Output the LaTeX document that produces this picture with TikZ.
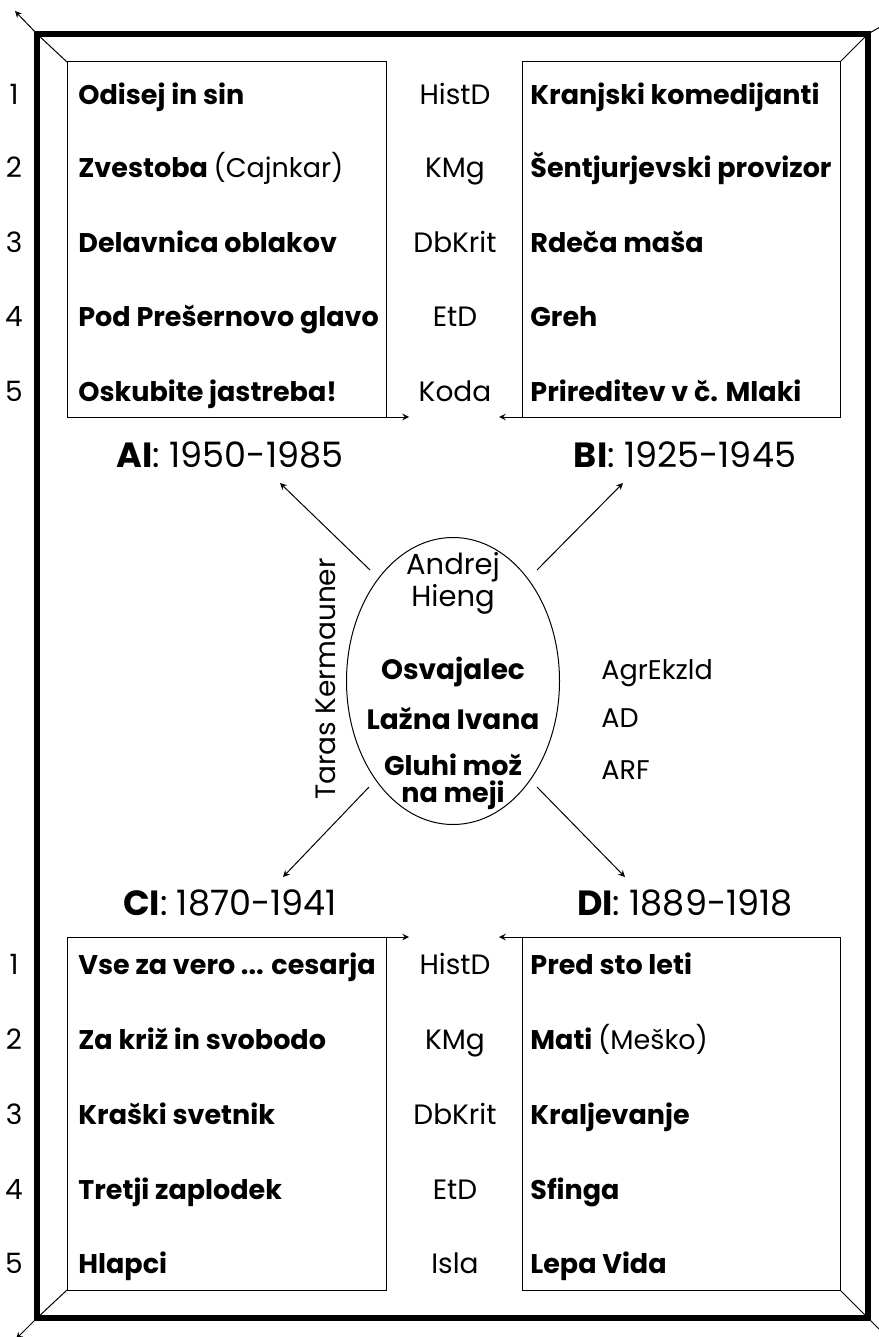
\documentclass[tikz,border=0pt]{standalone}
\usepackage{fontspec}
\setmainfont{Poppins}
\usetikzlibrary{shapes.geometric}
\tikzset{
  frame/.style={line width=2.6pt},
  thin/.style={line width=0.5pt},
  txt/.style={inner sep=0pt, text height=9.6pt, text depth=0pt},
  play/.style={txt, anchor=west, font=\bfseries\fontsize{13.5}{15}\selectfont},
  code/.style={txt, font=\fontsize{14}{16}\selectfont},
  num/.style={txt, font=\fontsize{14}{16}\selectfont},
  period/.style={inner sep=0pt, text height=12pt, text depth=0pt, font=\fontsize{17.5}{19}\selectfont},
}
\begin{document}
\begin{tikzpicture}[>=stealth, x=0.5pt, y=-0.5pt]
\useasboundingbox (0,0) rectangle (878,1337);

% outer frame and its corners
\coordinate (o1) at (37,34);
\coordinate (o2) at (868,34);
\coordinate (o3) at (868,1318);
\coordinate (o4) at (37,1318);
\coordinate (i1) at (67,62);
\coordinate (i2) at (840,62);
\coordinate (i3) at (840,1290);
\coordinate (i4) at (67,1290);
\coordinate (e1) at (15,11);
\coordinate (e2) at (892,20);
\coordinate (e3) at (892,1342);
\coordinate (e4) at (16,1339);
\draw[frame] (o1) rectangle (o3);
\draw[thin] (o1) -- (i1);
\draw[thin] (o2) -- (i2);
\draw[thin] (o3) -- (i3);
\draw[thin] (o4) -- (i4);
\draw[thin,->] (o1) -- (e1);
\draw[thin] (o2) -- (e2);
\draw[thin] (o3) -- (e3);
\draw[thin,->] (o4) -- (e4);

% the four boxes
\coordinate (aBR) at (386,417);
\coordinate (bTL) at (522,62);
\coordinate (bBL) at (522,417);
\coordinate (cTL) at (67,937);
\coordinate (cTR) at (386,937);
\coordinate (dTL) at (522,937);
\coordinate (aTip) at (409,417);
\coordinate (bTip) at (499,417);
\coordinate (cTip) at (409,937);
\coordinate (dTip) at (499,937);
\draw[thin] (i1) rectangle (aBR);
\draw[thin] (bTL) rectangle (840,417);
\draw[thin] (cTL) rectangle (386,1290);
\draw[thin] (dTL) rectangle (i3);
\draw[thin,->] (aBR) -- (aTip);
\draw[thin,->] (bBL) -- (bTip);
\draw[thin,->] (cTR) -- (cTip);
\draw[thin,->] (dTL) -- (dTip);

% row numbers
\node[num] (n1) at (14,95) {1};
\node[num] (n2) at (14,168) {2};
\node[num] (n3) at (14,243) {3};
\node[num] (n4) at (14,317) {4};
\node[num] (n5) at (14,392) {5};
\node[num] (m1) at (14,965) {1};
\node[num] (m2) at (14,1040) {2};
\node[num] (m3) at (14,1115) {3};
\node[num] (m4) at (14,1190) {4};
\node[num] (m5) at (14,1264) {5};

% box A
\node[play] (a1) at (78,95) {Odisej in sin};
\node[play] (a2) at (78,168) {Zvestoba \mdseries(Cajnkar)};
\node[play] (a3) at (78,243) {Delavnica oblakov};
\node[play] (a4) at (78,317) {Pod Prešernovo glavo};
\node[play] (a5) at (78,392) {Oskubite jastreba!};

% middle codes, top
\node[code] (k1) at (455,95) {HistD};
\node[code] (k2) at (455,168) {KMg};
\node[code] (k3) at (455,243) {DbKrit};
\node[code] (k4) at (455,317) {EtD};
\node[code] (k5) at (455,392) {Koda};

% box B
\node[play] (b1) at (530,95) {Kranjski komedijanti};
\node[play] (b2) at (530,168) {Šentjurjevski provizor};
\node[play] (b3) at (530,243) {Rdeča maša};
\node[play] (b4) at (530,317) {Greh};
\node[play] (b5) at (530,392) {Prireditev v č. Mlaki};

% box C
\node[play] (c1) at (78,965) {Vse za vero ... cesarja};
\node[play] (c2) at (78,1040) {Za križ in svobodo};
\node[play] (c3) at (78,1115) {Kraški svetnik};
\node[play] (c4) at (78,1190) {Tretji zaplodek};
\node[play] (c5) at (78,1264) {Hlapci};

% middle codes, bottom
\node[code] (l1) at (455,965) {HistD};
\node[code] (l2) at (455,1040) {KMg};
\node[code] (l3) at (455,1115) {DbKrit};
\node[code] (l4) at (455,1190) {EtD};
\node[code] (l5) at (455,1264) {Isla};

% box D
\node[play] (d1) at (530,965) {Pred sto leti};
\node[play] (d2) at (530,1040) {Mati \mdseries(Meško)};
\node[play] (d3) at (530,1115) {Kraljevanje};
\node[play] (d4) at (530,1190) {Sfinga};
\node[play] (d5) at (530,1264) {Lepa Vida};

% periods
\node[period] (pA) at (230,455) {\textbf{AI}: 1950-1985};
\node[period] (pB) at (685,455) {\textbf{BI}: 1925-1945};
\node[period] (pC) at (230,903) {\textbf{CI}: 1870-1941};
\node[period] (pD) at (685,903) {\textbf{DI}: 1889-1918};

% centre
\node[draw, thin, ellipse, inner sep=0pt, minimum width=106.5pt, minimum height=143.5pt] (ell) at (453,681) {};
\node[code, font=\fontsize{14.5}{16}\selectfont] (au1) at (453,565) {Andrej};
\node[code, font=\fontsize{14.5}{16}\selectfont] (au2) at (453,597) {Hieng};
\node[txt, font=\bfseries\fontsize{14}{16}\selectfont] (h1) at (453,670) {Osvajalec};
\node[txt, font=\bfseries\fontsize{14}{16}\selectfont] (h2) at (453,720) {Lažna Ivana};
\node[txt, font=\bfseries\fontsize{13.5}{16}\selectfont] (h3) at (453,766) {Gluhi mož};
\node[txt, font=\bfseries\fontsize{13.5}{16}\selectfont] (h4) at (453,793) {na meji};
\node[code, anchor=west, font=\fontsize{13.5}{16}\selectfont] (g1) at (601,670) {AgrEkzld};
\node[code, anchor=west, font=\fontsize{13.5}{16}\selectfont] (g2) at (601,718) {AD};
\node[code, anchor=west, font=\fontsize{13.5}{16}\selectfont] (g3) at (601,770) {ARF};
\node[rotate=90, inner sep=0pt, text height=10pt, text depth=0pt, font=\fontsize{14}{16}\selectfont] (crit) at (325,679) {Taras Kermauner};

% arrows out of the centre
\coordinate (nw) at (370,570);
\coordinate (ne) at (537,570);
\coordinate (sw) at (369,787);
\coordinate (se) at (537,787);
\coordinate (nwTip) at (280,483);
\coordinate (neTip) at (623,483);
\coordinate (swTip) at (283,877);
\coordinate (seTip) at (625,877);
\draw[thin,->] (nw) -- (nwTip);
\draw[thin,->] (ne) -- (neTip);
\draw[thin,->] (sw) -- (swTip);
\draw[thin,->] (se) -- (seTip);
\end{tikzpicture}
\end{document}
